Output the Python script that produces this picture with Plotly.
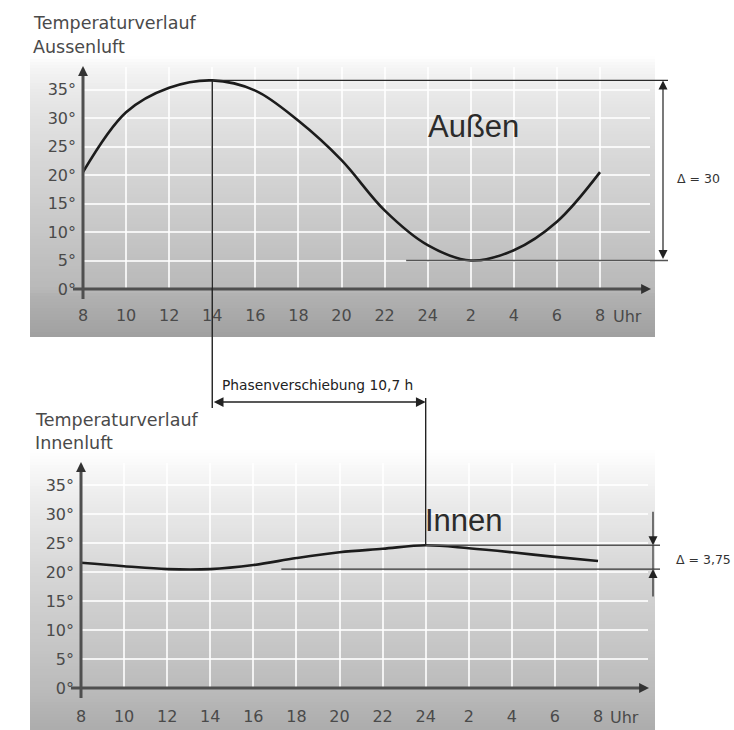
import plotly.graph_objects as go

W, H = 734, 730

# ---------------- data ----------------
hours = [8, 10, 12, 14, 16, 18, 20, 22, 24, 26, 28, 30, 32]
hour_labels = ["8", "10", "12", "14", "16", "18", "20", "22", "24", "2", "4", "6", "8"]
outer_temp = [20.5, 31.0, 35.3, 36.6, 34.8, 29.5, 22.6, 13.8, 7.7, 5.0, 6.8, 11.8, 20.5]
inner_temp = [21.6, 21.0, 20.5, 20.5, 21.2, 22.4, 23.4, 24.0, 24.6, 24.1, 23.4, 22.6, 21.9]
temp_ticks = [0, 5, 10, 15, 20, 25, 30, 35]
temp_labels = ["0°", "5°", "10°", "15°", "20°", "25°", "30°", "35°"]
title_top = ["Temperaturverlauf", "Aussenluft"]
title_bottom = ["Temperaturverlauf", "Innenluft"]
label_outer = "Außen"
label_inner = "Innen"
delta_outer = "Δ = 30"
delta_inner = "Δ = 3,75"
phase_text = "Phasenverschiebung 10,7 h"

# ---------------- axis geometry (pixels) ----------------
X_RANGE = [8, 34.32]
TOP_X_PX = (83, 650)
BOT_X_PX = (81, 648)
TOP_Y_PX = (289, 67)      # bottom, top
BOT_Y_PX = (688, 463)
TOP_Y_RANGE = [0, 38.95]
BOT_Y_RANGE = [0, 38.79]


def px(x):
    return x / W


def py(y):
    return 1 - y / H


def xpix(h, axpx):
    a, b = axpx
    return a + (h - X_RANGE[0]) / (X_RANGE[1] - X_RANGE[0]) * (b - a)


def ypix(v, aypx, yr):
    b, t = aypx
    return b - (v - yr[0]) / (yr[1] - yr[0]) * (b - t)


fig = go.Figure()

curve_line = dict(shape="spline", smoothing=1.0, color="#1c1c1c", width=2.6)
fig.add_trace(go.Scatter(x=hours, y=outer_temp, mode="lines", line=curve_line,
                         xaxis="x", yaxis="y", hoverinfo="skip", showlegend=False))
fig.add_trace(go.Scatter(x=hours, y=inner_temp, mode="lines", line=curve_line,
                         xaxis="x2", yaxis="y2", hoverinfo="skip", showlegend=False))

tickfont = dict(family="DejaVu Sans", size=16, color="#4a4a4a")
grid = dict(showgrid=True, gridcolor="rgba(255,255,255,0.8)", gridwidth=1.6,
            zeroline=False, showline=False, ticks="", fixedrange=True, automargin=False)

shapes = []
annotations = []


# ---------------- gradient backgrounds ----------------
def gradient(stops, x0, x1, step=3):
    y = stops[0][0]
    end = stops[-1][0]
    while y < end:
        ym = y + step / 2
        for i in range(len(stops) - 1):
            if stops[i][0] <= ym <= stops[i + 1][0]:
                f = (ym - stops[i][0]) / (stops[i + 1][0] - stops[i][0])
                g = stops[i][1] + f * (stops[i + 1][1] - stops[i][1])
                break
        g = int(round(g))
        shapes.append(dict(type="rect", xref="paper", yref="paper", layer="below",
                           x0=px(x0), x1=px(x1), y0=py(min(y + step + 0.6, end)), y1=py(y),
                           line=dict(width=0), fillcolor=f"rgb({g},{g},{g})"))
        y += step


gradient([(56, 255), (66, 246), (95, 232), (160, 215), (230, 199), (288, 185),
          (296, 177), (337, 160)], 30, 655)
gradient([(450, 255), (470, 247), (505, 234), (570, 215), (640, 199), (688, 187),
          (730, 172)], 30, 655)

layout_axes = dict(
    xaxis=dict(domain=[px(TOP_X_PX[0]), px(TOP_X_PX[1])], range=X_RANGE, anchor="y",
               tickvals=hours, ticktext=hour_labels, tickfont=tickfont,
               ticklabelstandoff=15, **grid),
    yaxis=dict(domain=[py(TOP_Y_PX[0]), py(TOP_Y_PX[1])], range=TOP_Y_RANGE, anchor="x",
               tickvals=temp_ticks, ticktext=temp_labels, tickfont=tickfont,
               ticklabelstandoff=6, **grid),
    xaxis2=dict(domain=[px(BOT_X_PX[0]), px(BOT_X_PX[1])], range=X_RANGE, anchor="y2",
                tickvals=hours, ticktext=hour_labels, tickfont=tickfont,
                ticklabelstandoff=17, **grid),
    yaxis2=dict(domain=[py(BOT_Y_PX[0]), py(BOT_Y_PX[1])], range=BOT_Y_RANGE, anchor="x2",
                tickvals=temp_ticks, ticktext=temp_labels, tickfont=tickfont,
                ticklabelstandoff=6, **grid),
)


def line(x0, y0, x1, y1, color="#2a2a2a", width=1.3):
    shapes.append(dict(type="line", xref="paper", yref="paper",
                       x0=px(x0), y0=py(y0), x1=px(x1), y1=py(y1),
                       line=dict(color=color, width=width)))


def arrow(xh, yh, ax, ay, side="end", width=1.3, size=1.4, color="#222"):
    annotations.append(dict(xref="paper", yref="paper", x=px(xh), y=py(yh), text="",
                            showarrow=True, ax=ax, ay=ay, arrowhead=2, arrowsize=size,
                            arrowwidth=width, arrowcolor=color, arrowside=side,
                            standoff=0, startstandoff=0))


# ---------------- axis lines with arrows ----------------
AX_COL = "#4f4f4f"
for xp, yp in [(TOP_X_PX, TOP_Y_PX), (BOT_X_PX, BOT_Y_PX)]:
    y0pix = yp[0]
    x0pix = xp[0]
    line(x0pix - 10, y0pix, xp[1] - 4, y0pix, AX_COL, 3)
    line(x0pix, y0pix + 10, x0pix, yp[1] + 4, AX_COL, 3)
    arrow(x0pix, yp[1] - 1, 0, 9, width=2.2, size=0.9, color="#333")
    arrow(xp[1] + 1, y0pix, -9, 0, width=2.2, size=0.9, color="#333")

# ---------------- dimension lines (outer) ----------------
i_max_o = outer_temp.index(max(outer_temp))
i_min_o = outer_temp.index(min(outer_temp))
y_max_o = ypix(max(outer_temp), TOP_Y_PX, TOP_Y_RANGE)
y_min_o = ypix(min(outer_temp), TOP_Y_PX, TOP_Y_RANGE)
x_peak_o = xpix(hours[i_max_o], TOP_X_PX)
line(x_peak_o, y_max_o, 668, y_max_o)
line(xpix(hours[i_min_o] - 3, TOP_X_PX), y_min_o, 668, y_min_o, "#555", 1.6)
arrow(663, y_max_o, 0, y_min_o - y_max_o, side="end+start", width=1.2, size=1.5)

# ---------------- dimension lines (inner) ----------------
i_max_i = inner_temp.index(max(inner_temp))
y_max_i = ypix(max(inner_temp), BOT_Y_PX, BOT_Y_RANGE)
y_min_i = ypix(min(inner_temp), BOT_Y_PX, BOT_Y_RANGE)
x_peak_i = xpix(hours[i_max_i], BOT_X_PX)
line(x_peak_i, y_max_i, 660, y_max_i, "#555", 1.6)
line(xpix(17.3, BOT_X_PX), y_min_i, 660, y_min_i, "#333", 1.3)
line(653, y_max_i, 653, y_min_i, "#333", 1.2)
arrow(653, y_max_i, 0, -35, width=1.2, size=1.5)
arrow(653, y_min_i, 0, 29, width=1.2, size=1.5)

# ---------------- phase shift ----------------
line(x_peak_o, y_max_o, x_peak_o, 408, "#222", 1.4)
line(x_peak_i, 398, x_peak_i, y_max_i, "#222", 1.4)
arrow(x_peak_i, 402, x_peak_o - x_peak_i, 0, side="end+start", width=1.3, size=1.5)


# ---------------- texts ----------------
def text(t, x, y, size, color="#3a3a3a", xanchor="left", family="DejaVu Sans"):
    annotations.append(dict(xref="paper", yref="paper", x=px(x), y=py(y), text=t,
                            showarrow=False, xanchor=xanchor, yanchor="middle",
                            font=dict(family=family, size=size, color=color)))


text(title_top[0], 31, 23, 17.5, "#4a4a4a")
text(title_top[1], 31, 47, 17.5, "#4a4a4a")
text(title_bottom[0], 33, 420, 17.5, "#4a4a4a")
text(title_bottom[1], 33, 443, 17.5, "#4a4a4a")
text("Uhr", 611, 316, 16, "#4a4a4a")
text("Uhr", 608, 717, 16, "#4a4a4a")
text(label_outer, 426, 126, 31, "#2b2b2b", family="Liberation Sans")
text(label_inner, 423, 520, 31, "#2b2b2b", family="Liberation Sans")
text(delta_outer, 675, 178, 12.5, "#333")
text(delta_inner, 674, 559, 12.5, "#333")
text(phase_text, 220, 385, 13.8, "#222")

fig.update_layout(
    width=W, height=H, margin=dict(l=0, r=0, t=0, b=0, autoexpand=False),
    paper_bgcolor="white", plot_bgcolor="rgba(0,0,0,0)",
    shapes=shapes, annotations=annotations, showlegend=False,
    **layout_axes,
)

css_js = ("var s=document.createElement('style');"
          "s.textContent='html,body{margin:0!important;padding:0!important;overflow:hidden!important;}';"
          "document.head.appendChild(s);")
fig.write_html("out.html", config={"displayModeBar": False}, post_script=css_js)
